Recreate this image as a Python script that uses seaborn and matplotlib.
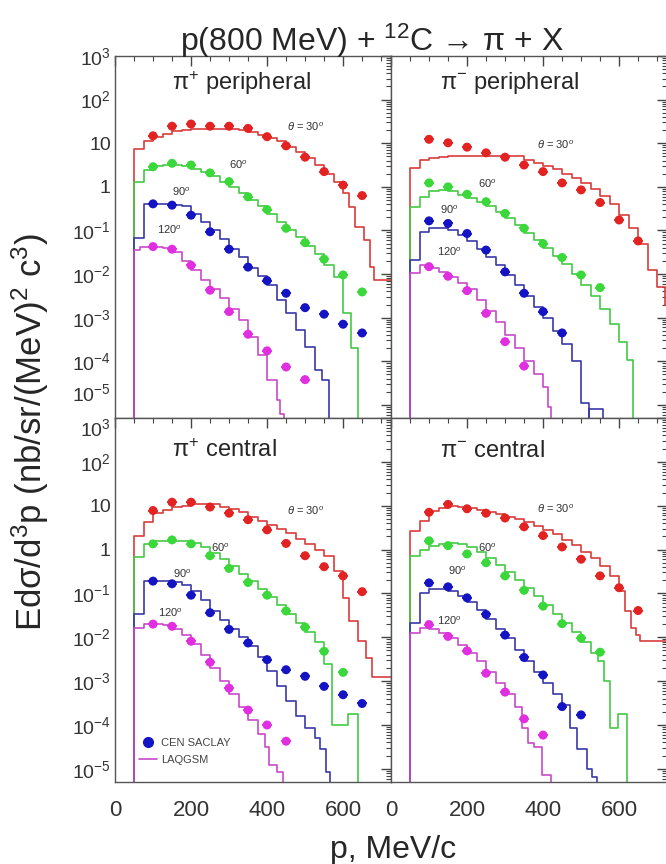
import matplotlib
matplotlib.use("Agg")
import matplotlib.pyplot as plt
import seaborn as sns
from matplotlib.ticker import FixedLocator, FixedFormatter, LogLocator, MultipleLocator, NullFormatter
from matplotlib.lines import Line2D

sns.set_style("white")
plt.rcParams['font.family'] = ['Liberation Sans', 'DejaVu Sans']
plt.rcParams['mathtext.fontset'] = 'custom'
plt.rcParams['mathtext.rm'] = 'Liberation Sans'
plt.rcParams['mathtext.it'] = 'Liberation Sans:italic'
plt.rcParams['mathtext.bf'] = 'Liberation Sans:bold'

## --- data (log10 of E d3sigma/d3p)
p_data = [100, 150, 200, 250, 300, 350, 400, 450, 500, 550, 600, 650]

# pi+ peripheral
pip_peri_30 = [1.17, 1.39, 1.44, 1.39, 1.39, 1.34, 1.15, 0.94, 0.68, 0.35, 0.04, -0.20]
pip_peri_60 = [0.46, 0.54, 0.50, 0.32, 0.12, -0.23, -0.52, -0.95, -1.28, -1.66, -2.02, -2.41]
pip_peri_90 = [-0.39, -0.42, -0.65, -1.03, -1.43, -1.84, -2.15, -2.44, -2.77, -2.92, -3.15, -3.35]
pip_peri_120 = [-1.37, -1.43, -1.80, -2.37, -2.86, -3.38, -3.76, -4.13, -4.42]
# pi- peripheral
pim_peri_30 = [1.09, 1.01, 0.91, 0.78, 0.68, 0.50, 0.35, 0.09, -0.07, -0.36, -0.76, -1.24]
pim_peri_60 = [0.09, 0.00, -0.17, -0.34, -0.61, -0.95, -1.30, -1.62, -2.02, -2.31]
pim_peri_90 = [-0.78, -0.84, -1.07, -1.45, -1.95, -2.44, -2.86, -3.35]
pim_peri_120 = [-1.83, -2.05, -2.38, -2.90, -3.55, -4.11]
# pi+ central
pip_cent_30 = [0.89, 1.08, 1.08, 0.97, 0.83, 0.68, 0.45, 0.14, -0.14, -0.39, -0.60, -0.96]
pip_cent_60 = [0.13, 0.22, 0.13, -0.14, -0.43, -0.75, -1.04, -1.40, -1.77, -2.32, -2.80]
pip_cent_90 = [-0.72, -0.78, -1.04, -1.44, -1.82, -2.13, -2.51, -2.74, -2.89, -3.12, -3.31, -3.51]
pip_cent_120 = [-1.70, -1.75, -2.09, -2.57, -3.16, -3.66, -4.00, -4.37]
# pi- central
pim_cent_30 = [0.85, 1.03, 0.93, 0.83, 0.72, 0.52, 0.32, 0.06, -0.22, -0.60, -0.87, -1.39]
pim_cent_60 = [0.20, 0.09, -0.10, -0.30, -0.60, -0.93, -1.29, -1.69, -2.02, -2.34]
pim_cent_90 = [-0.76, -0.85, -1.10, -1.48, -1.95, -2.46, -2.86, -3.58, -3.77]
pim_cent_120 = [-1.71, -1.98, -2.31, -2.82, -3.25, -3.86, -4.23]

## --- LAQGSM histograms: (bin left edge, log10 value); None = drops to zero
lq_pip_peri_30 = [(50, 0.86), (75, 1.06), (100, 1.15), (125, 1.22), (150, 1.28), (175, 1.30), (200, 1.32),
                  (325, 1.30), (350, 1.25), (375, 1.20), (400, 1.12), (425, 1.04), (450, 0.92), (475, 0.80),
                  (500, 0.65), (525, 0.50), (550, 0.30), (575, 0.12), (600, -0.15), (615, -0.46), (630, -0.92),
                  (655, -1.22), (670, -1.83), (680, -2.14), (740, None)]
lq_pip_peri_60 = [(50, 0.10), (75, 0.39), (100, 0.48), (125, 0.50), (175, 0.48), (200, 0.42), (225, 0.35),
                  (250, 0.25), (275, 0.12), (300, 0.0), (325, -0.15), (350, -0.30), (375, -0.45), (400, -0.62),
                  (425, -0.80), (450, -1.0), (475, -1.15), (500, -1.35), (525, -1.55), (550, -1.80),
                  (575, -2.06), (600, -2.9), (620, -3.7), (640, None)]
lq_pip_peri_90 = [(50, -1.18), (75, -0.39), (150, -0.42), (175, -0.45), (200, -0.62), (225, -0.80), (250, -1.0),
                  (275, -1.2), (300, -1.42), (325, -1.62), (350, -1.85), (375, -2.05), (400, -2.25), (425, -2.6),
                  (450, -2.9), (475, -3.28), (500, -3.67), (525, -4.2), (545, -4.43), (562, None)]
lq_pip_peri_120 = [(50, -1.45), (65, -1.37), (125, -1.40), (150, -1.50), (175, -1.70), (200, -1.90),
                   (225, -2.14), (250, -2.35), (275, -2.55), (300, -2.80), (325, -3.05), (350, -3.44),
                   (375, -3.85), (400, -4.43), (425, -4.89), (435, -5.2), (445, None)]

lq_pim_peri_30 = [(50, 0.43), (75, 0.61), (100, 0.66), (125, 0.68), (150, 0.70), (350, 0.62), (375, 0.55),
                  (400, 0.48), (425, 0.40), (450, 0.30), (475, 0.20), (500, 0.08), (525, -0.05), (550, -0.20),
                  (575, -0.40), (600, -0.65), (625, -0.95), (650, -1.30), (675, -1.90), (700, -2.3),
                  (720, -2.7), (740, None)]
lq_pim_peri_60 = [(50, -0.46), (75, -0.23), (100, -0.10), (125, -0.07), (150, -0.10), (175, -0.18),
                  (200, -0.25), (225, -0.35), (250, -0.45), (275, -0.58), (300, -0.72), (325, -0.88),
                  (350, -1.05), (375, -1.22), (400, -1.40), (425, -1.58), (450, -1.78), (475, -2.0),
                  (500, -2.25), (525, -2.5), (550, -2.8), (575, -3.15), (600, -3.55), (620, -3.97), (637, None)]
lq_pim_peri_90 = [(50, -1.68), (75, -1.03), (100, -0.95), (150, -1.0), (175, -1.1), (200, -1.25), (225, -1.42),
                  (250, -1.6), (275, -1.8), (300, -2.02), (325, -2.25), (350, -2.5), (375, -2.75), (400, -3.0),
                  (425, -3.3), (450, -3.6), (475, -4.0), (500, -4.96), (520, None), (522, -5.1), (558, None)]
lq_pim_peri_120 = [(50, -1.98), (75, -1.80), (100, -1.85), (125, -1.95), (150, -2.06), (175, -2.20),
                   (200, -2.35), (225, -2.60), (250, -2.85), (275, -3.10), (300, -3.40), (325, -3.70),
                   (350, -4.0), (375, -4.3), (400, -4.6), (412, -5.04), (422, None)]

lq_pip_cent_30 = [(50, 0.32), (75, 0.62), (100, 0.83), (125, 0.90), (150, 0.97), (175, 1.0), (200, 1.04),
                  (250, 1.03), (275, 0.98), (300, 0.93), (325, 0.85), (350, 0.75), (375, 0.66), (400, 0.56),
                  (425, 0.47), (450, 0.37), (475, 0.25), (500, 0.13), (525, 0.0), (550, -0.15), (575, -0.5),
                  (600, -1.1), (615, -1.63), (640, -2.09), (660, -2.47), (675, -2.9), (740, None)]
lq_pip_cent_60 = [(50, -0.18), (75, 0.13), (100, 0.20), (200, 0.15), (225, 0.05), (250, -0.08), (275, -0.22),
                  (300, -0.38), (325, -0.55), (350, -0.72), (375, -0.90), (400, -1.08), (425, -1.27),
                  (450, -1.47), (475, -1.67), (500, -1.88), (525, -2.1), (550, -2.6), (572, -4.0),
                  (612, -3.74), (638, None)]
lq_pip_cent_90 = [(50, -1.48), (75, -0.72), (150, -0.75), (175, -0.80), (200, -0.95), (225, -1.15), (250, -1.40),
                  (275, -1.60), (300, -1.82), (325, -2.0), (350, -2.2), (375, -2.45), (400, -2.78), (425, -3.1),
                  (450, -3.45), (475, -3.8), (500, -4.08), (525, -4.3), (540, -4.54), (555, -5.07), (565, None)]
lq_pip_cent_120 = [(50, -1.79), (75, -1.70), (125, -1.72), (150, -1.80), (175, -1.95), (200, -2.15),
                   (225, -2.40), (250, -2.70), (275, -3.0), (300, -3.3), (325, -3.6), (350, -3.89),
                   (375, -4.2), (395, -4.5), (405, -4.92), (425, -5.07), (441, None)]

lq_pim_cent_30 = [(50, 0.43), (75, 0.66), (100, 0.89), (125, 0.95), (150, 1.0), (175, 0.98), (200, 0.95),
                  (225, 0.90), (250, 0.85), (275, 0.80), (300, 0.75), (325, 0.70), (350, 0.62), (375, 0.53),
                  (400, 0.45), (425, 0.35), (450, 0.22), (475, 0.10), (500, -0.05), (525, -0.20), (550, -0.38),
                  (575, -0.60), (600, -0.94), (615, -1.40), (630, -1.79), (645, -1.94), (655, -2.09), (740, None)]
lq_pim_cent_60 = [(50, -0.14), (75, 0.0), (100, 0.08), (125, 0.13), (150, 0.15), (175, 0.13), (200, 0.05),
                  (225, -0.05), (250, -0.20), (275, -0.35), (300, -0.52), (325, -0.70), (350, -0.88),
                  (375, -1.07), (400, -1.27), (425, -1.47), (450, -1.67), (475, -1.88), (500, -2.10),
                  (525, -2.35), (545, -2.55), (560, -3.0), (575, -4.08), (598, -3.74), (620, None)]
lq_pim_cent_90 = [(50, -1.67), (75, -0.98), (100, -0.90), (150, -0.95), (175, -1.05), (200, -1.20),
                  (225, -1.38), (250, -1.58), (275, -1.80), (300, -2.02), (325, -2.28), (350, -2.55),
                  (375, -2.80), (400, -3.05), (425, -3.30), (450, -3.54), (470, -4.08), (490, -4.54),
                  (515, -5.0), (530, -5.19), (541, None)]
lq_pim_cent_120 = [(50, -1.90), (75, -1.79), (100, -1.82), (125, -1.90), (150, -2.02), (175, -2.18),
                   (200, -2.35), (225, -2.55), (250, -2.80), (275, -3.05), (300, -3.30), (325, -3.60),
                   (345, -4.08), (360, -4.42), (375, -4.50), (398, -5.15), (422, None)]

angle_labels = [r"$\theta$ = 30$^o$", "60$^o$", "90$^o$", "120$^o$"]
pt_colors = ['#e32222', '#3ad83a', '#1414c4', '#e02ee0']
ln_colors = ['#d83c3c', '#45c845', '#3a3aa8', '#c84ac8']

FLOOR = 1e-7
YMIN, YMAX = 10 ** -5.3, 1e3


def model_xy(pairs):
    xs = [pairs[0][0]]
    ys = [FLOOR]
    for x, lv in pairs:
        xs.append(x)
        ys.append(FLOOR if lv is None else 10 ** lv)
    return xs, ys


panels = [
    dict(name=r"π$^{+}$ peripheral", data=[pip_peri_30, pip_peri_60, pip_peri_90, pip_peri_120],
         model=[lq_pip_peri_30, lq_pip_peri_60, lq_pip_peri_90, lq_pip_peri_120],
         name_xy=(0.205, 0.925), ang_xy=[(452, 1.38), (300, 0.5), (150, -0.11), (110, -0.99)]),
    dict(name=r"π$^{-}$ peripheral", data=[pim_peri_30, pim_peri_60, pim_peri_90, pim_peri_120],
         model=[lq_pim_peri_30, lq_pim_peri_60, lq_pim_peri_90, lq_pim_peri_120],
         name_xy=(0.178, 0.925), ang_xy=[(383, 0.96), (230, 0.08), (129, -0.53), (120, -1.49)]),
    dict(name=r"π$^{+}$ central", data=[pip_cent_30, pip_cent_60, pip_cent_90, pip_cent_120],
         model=[lq_pip_cent_30, lq_pip_cent_60, lq_pip_cent_90, lq_pip_cent_120],
         name_xy=(0.205, 0.91), ang_xy=[(452, 0.89), (253, 0.05), (152, -0.56), (112, -1.44)]),
    dict(name=r"π$^{-}$ central", data=[pim_cent_30, pim_cent_60, pim_cent_90, pim_cent_120],
         model=[lq_pim_cent_30, lq_pim_cent_60, lq_pim_cent_90, lq_pim_cent_120],
         name_xy=(0.178, 0.91), ang_xy=[(383, 0.93), (230, 0.03), (151, -0.49), (120, -1.63)]),
]

W, H = 666, 864
fig = plt.figure(figsize=(W / 100, H / 100), dpi=100)
lefts = [115 / W, 391 / W]
pw = 276 / W
rects = [(lefts[0], 1 - 418 / H, pw, 362 / H), (lefts[1], 1 - 418 / H, pw, 362 / H),
         (lefts[0], 1 - 782 / H, pw, 364 / H), (lefts[1], 1 - 782 / H, pw, 364 / H)]

decades = list(range(-5, 4))
dec_labels = [r"10$^{%d}$" % k if k not in (0, 1) else ("1" if k == 0 else "10") for k in decades]

for i, (panel, rect) in enumerate(zip(panels, rects)):
    ax = fig.add_axes(rect)
    ax.set_yscale('log')

    for j in range(4):
        mx, my = model_xy(panel['model'][j])
        sns.lineplot(x=mx, y=my, ax=ax, color=ln_colors[j], lw=1.2,
                     drawstyle='steps-post', estimator=None, sort=False)
        vals = panel['data'][j]
        px = p_data[:len(vals)]
        py = [10 ** v for v in vals]
        ax.errorbar(px, py, xerr=14, fmt='none', ecolor=pt_colors[j], elinewidth=1.3, capsize=0, zorder=3)
        sns.scatterplot(x=px, y=py, ax=ax, color=pt_colors[j], s=42, edgecolor='none', zorder=4)
        ax.text(panel['ang_xy'][j][0], 10 ** panel['ang_xy'][j][1], angle_labels[j],
                fontsize=8, color='#333333', va='center', ha='left')

    ax.text(*panel['name_xy'], panel['name'], transform=ax.transAxes, fontsize=17, va='center', ha='left')

    ax.set_xlim(0, 726)
    ax.set_ylim(YMIN, YMAX)
    ax.xaxis.set_major_locator(MultipleLocator(200))
    ax.xaxis.set_minor_locator(MultipleLocator(50))
    ax.yaxis.set_major_locator(FixedLocator([10.0 ** k for k in decades]))
    ax.yaxis.set_minor_locator(LogLocator(base=10, subs=range(2, 10), numticks=30))
    ax.yaxis.set_minor_formatter(NullFormatter())
    if i % 2 == 0:
        ax.yaxis.set_major_formatter(FixedFormatter(dec_labels))
    else:
        ax.yaxis.set_major_formatter(NullFormatter())
    if i < 2:
        ax.xaxis.set_major_formatter(NullFormatter())
    ax.tick_params(which='both', direction='in', top=True, right=True, colors='#444444',
                   labelcolor='#333333')
    ax.tick_params(which='major', length=7, width=1.0)
    ax.tick_params(which='minor', length=3.5, width=0.8)
    ax.tick_params(axis='y', labelsize=14, pad=3)
    ax.tick_params(axis='x', labelsize=16, pad=13)
    ax.set_xlabel("")
    ax.set_ylabel("")
    for s in ax.spines.values():
        s.set_color('#555555')
        s.set_linewidth(1.0)

    # keep the stacked labels at the panel joint apart
    if i % 2 == 0:
        ylabels = ax.yaxis.get_majorticklabels()
        if i == 0:
            ylabels[0].set_verticalalignment('bottom')
        else:
            ylabels[-1].set_verticalalignment('top')

    if i == 2:
        handles = [Line2D([], [], marker='o', color=pt_colors[2], ls='none', ms=7),
                   Line2D([], [], color=ln_colors[3], lw=1.2)]
        ax.legend(handles, ['CEN SACLAY', 'LAQGSM'], loc='lower left', bbox_to_anchor=(0.05, 0.02),
                  frameon=False, fontsize=8, handlelength=1.6, handletextpad=0.4, labelspacing=0.6,
                  labelcolor='#444444')

fig.text(0.558, 0.953, r"p(800 MeV) + $^{12}$C → π + X", ha='center', va='center', fontsize=23)
fig.text(0.045, 0.50, r"Edσ/d$^3$p (nb/sr/(MeV)$^2$ c$^3$)", rotation=90, ha='center', va='center', fontsize=25)
fig.text(0.59, 0.016, "p, MeV/c", ha='center', va='center', fontsize=23)

fig.savefig("out.png", dpi=100)
